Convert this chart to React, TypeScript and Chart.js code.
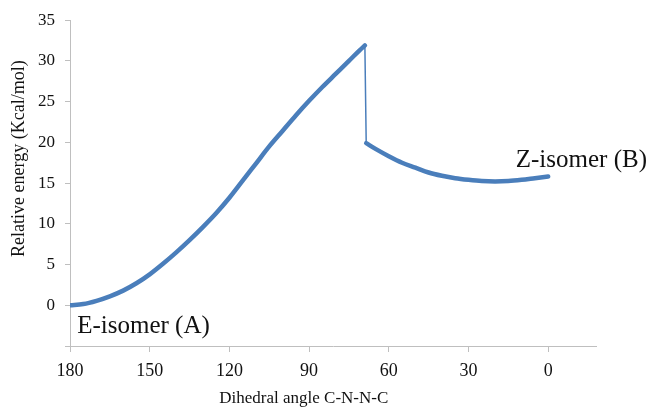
import React, { useEffect, useRef } from "react";
import { Chart, registerables } from "chart.js";

Chart.register(...registerables);

// E-isomer branch (rotation from 180 deg towards the transition)
const risingAngles = [180, 175, 170, 165, 160, 155, 150, 145, 140, 135, 130, 125, 120, 115, 110, 105, 100, 95, 90, 85, 80, 75, 71, 69];
const risingEnergies = [0.0, 0.15, 0.55, 1.1, 1.8, 2.7, 3.8, 5.1, 6.5, 8.0, 9.6, 11.3, 13.2, 15.3, 17.4, 19.5, 21.4, 23.3, 25.1, 26.8, 28.4, 30.0, 31.3, 31.9];
// Z-isomer branch (after the drop)
const fallingAngles = [68.5, 65, 60, 55, 50, 45, 40, 35, 30, 25, 20, 15, 10, 5, 0];
const fallingEnergies = [19.9, 19.2, 18.3, 17.5, 16.9, 16.3, 15.9, 15.6, 15.4, 15.25, 15.2, 15.25, 15.4, 15.6, 15.8];
const xTicks = [180, 150, 120, 90, 60, 30, 0];
const xTitle = "Dihedral angle C-N-N-C";
const yTitle = "Relative energy (Kcal/mol)";
const labelA = { text: "E-isomer (A)", x: 177.3, y: -3.4 };
const labelB = { text: "Z-isomer (B)", x: 12.2, y: 17.0 };

const FONT = "'Liberation Serif', 'Times New Roman', serif";
const BLUE = "#4A7EBB";
const AXIS = "#BFBFBF";

const textPlugin = {
  id: "textPlugin",
  afterDraw(chart: any) {
    const ctx = chart.ctx;
    const xs = chart.scales.x;
    const ys = chart.scales.y;
    ctx.save();
    ctx.fillStyle = "#111";
    ctx.textBaseline = "alphabetic";
    ctx.textAlign = "left";
    ctx.font = `25px ${FONT}`;
    ctx.fillText(labelA.text, xs.getPixelForValue(labelA.x), ys.getPixelForValue(labelA.y));
    ctx.fillText(labelB.text, xs.getPixelForValue(labelB.x), ys.getPixelForValue(labelB.y));
    ctx.font = `17px ${FONT}`;
    ctx.textAlign = "center";
    ctx.textBaseline = "bottom";
    ctx.fillText(xTitle, xs.getPixelForValue(92), chart.height - 3);
    ctx.font = `18px ${FONT}`;
    ctx.translate(10, ys.getPixelForValue(18));
    ctx.rotate(-Math.PI / 2);
    ctx.textBaseline = "top";
    ctx.fillText(yTitle, 0, 0);
    ctx.restore();
  },
};

const toPts = (xs: number[], ys: number[]) => xs.map((a, i) => ({ x: a, y: ys[i] }));

export default function App() {
  const ref = useRef<HTMLCanvasElement>(null);
  useEffect(() => {
    if (!ref.current) return;
    const common = {
      borderColor: BLUE,
      backgroundColor: BLUE,
      pointRadius: 0,
      borderCapStyle: "round",
      borderJoinStyle: "round",
    };
    const chart = new Chart(ref.current, {
      type: "line",
      data: {
        datasets: [
          { ...common, data: toPts(risingAngles, risingEnergies), borderWidth: 4.5, cubicInterpolationMode: "monotone" } as any,
          {
            ...common,
            data: [
              { x: risingAngles[risingAngles.length - 1], y: risingEnergies[risingEnergies.length - 1] },
              { x: fallingAngles[0], y: fallingEnergies[0] },
            ],
            borderWidth: 1.5,
          } as any,
          { ...common, data: toPts(fallingAngles, fallingEnergies), borderWidth: 4.5, cubicInterpolationMode: "monotone" } as any,
        ],
      },
      options: {
        animation: false,
        responsive: false,
        layout: { padding: { left: 0, right: 55, top: 20, bottom: 0 } },
        plugins: { legend: { display: false }, tooltip: { enabled: false } },
        scales: {
          x: {
            type: "linear",
            reverse: true,
            min: -18,
            max: 180,
            afterBuildTicks: (s: any) => {
              s.ticks = xTicks.map((v) => ({ value: v }));
            },
            afterFit: (s: any) => {
              s.height = 64;
            },
            grid: { drawOnChartArea: false, drawTicks: true, tickLength: 6, color: AXIS },
            border: { color: AXIS, width: 1 },
            ticks: {
              autoSkip: false,
              maxRotation: 0,
              padding: 8,
              color: "#111",
              font: { family: FONT, size: 18 },
            },
          },
          y: {
            type: "linear",
            min: -5,
            max: 35,
            afterFit: (s: any) => {
              s.width = 70;
            },
            grid: { drawOnChartArea: false, drawTicks: true, tickLength: 5, color: AXIS },
            border: { color: AXIS, width: 1 },
            ticks: {
              stepSize: 5,
              padding: 10,
              color: "#111",
              font: { family: FONT, size: 17 },
              callback: (v: any) => (v === -5 ? "" : String(v)),
            },
          },
        },
      },
      plugins: [textPlugin],
    });
    return () => chart.destroy();
  }, []);
  return (
    <div style={{ position: "fixed", left: 0, top: 0, width: 651, height: 410, background: "#fff" }}>
      <canvas ref={ref} width={651} height={410} style={{ width: 651, height: 410 }} />
    </div>
  );
}
